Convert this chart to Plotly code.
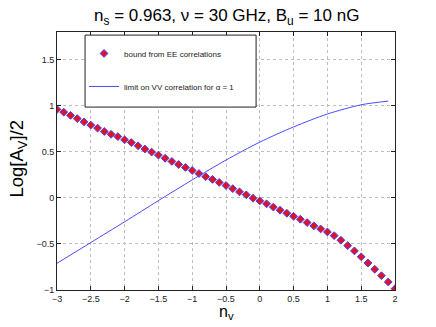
import plotly.graph_objects as go

# bound from EE correlations (diamonds)
nv_pts = [-3.0, -2.9, -2.8, -2.7, -2.6, -2.5, -2.4, -2.3, -2.2, -2.1,
          -2.0, -1.9, -1.8, -1.7, -1.6, -1.5, -1.4, -1.3, -1.2, -1.1,
          -1.0, -0.9, -0.8, -0.7, -0.6, -0.5, -0.4, -0.3, -0.2, -0.1,
          0.0, 0.1, 0.2, 0.3, 0.4, 0.5, 0.6, 0.7, 0.8, 0.9,
          1.0, 1.1, 1.2, 1.3, 1.4, 1.5, 1.6, 1.7, 1.8, 1.9, 2.0]
ee_bound = [0.96, 0.93, 0.895, 0.86, 0.825, 0.79, 0.757, 0.72, 0.69, 0.665,
            0.63, 0.60, 0.565, 0.53, 0.497, 0.464, 0.43, 0.395, 0.362, 0.33,
            0.297, 0.264, 0.23, 0.20, 0.167, 0.134, 0.10, 0.065, 0.033, -0.004,
            -0.033, -0.065, -0.10, -0.134, -0.167, -0.20, -0.232, -0.268, -0.304, -0.337,
            -0.37, -0.41, -0.46, -0.518, -0.576, -0.64, -0.707, -0.775, -0.845, -0.913, -0.986]

# limit on VV correlation for alpha = 1 (line)
nv_line = [-3.0, -2.5, -2.0, -1.5, -1.0, -0.5, 0.0, 0.5, 1.0, 1.5, 1.9]
vv_limit = [-0.71, -0.485, -0.26, -0.03, 0.195, 0.41, 0.605, 0.77, 0.91, 1.01, 1.05]

x_ticks = [-3, -2.5, -2, -1.5, -1, -0.5, 0, 0.5, 1, 1.5, 2]
y_ticks = [-1, -0.5, 0, 0.5, 1, 1.5]

font = "Liberation Sans, Arial, Helvetica, sans-serif"

fig = go.Figure()
fig.add_trace(go.Scatter(
    x=nv_pts, y=ee_bound, mode="markers", name="bound from EE correlations",
    legendgroup="ee",
    marker=dict(symbol="diamond", size=6, color="#e0141c",
                line=dict(color="#4a3cff", width=1)),
))
fig.add_trace(go.Scatter(
    x=nv_line, y=vv_limit, mode="lines", name="limit on VV correlation for \u03b1 = 1",
    legendgroup="vv",
    line=dict(color="#4a4aff", width=1, shape="spline", smoothing=0.8),
))

axis_common = dict(
    showline=True, linecolor="#222", linewidth=1, mirror="ticks",
    ticks="inside", ticklen=4, tickcolor="#222",
    showgrid=True, gridcolor="#bdbdbd", griddash="dot", gridwidth=1,
    zeroline=False, automargin=False,
    tickfont=dict(size=9, color="#222", family=font),
)

fig.update_xaxes(range=[-3, 2], tickvals=x_ticks, **axis_common)
fig.update_yaxes(range=[-1, 1.8], tickvals=y_ticks, **axis_common)

# axis titles
fig.add_annotation(text="n<sub>v</sub>", xref="paper", yref="paper",
                   x=0.5, y=-0.042, xanchor="center", yanchor="top", showarrow=False,
                   font=dict(size=16, color="black", family=font))
fig.add_annotation(text="Log[A<sub>V</sub>]/2", xref="paper", yref="paper",
                   x=-0.115, y=0.51, xanchor="center", yanchor="middle", showarrow=False,
                   textangle=-90, font=dict(size=18.5, color="black", family=font))

# legend box
fig.add_shape(type="rect", xref="paper", yref="paper",
              x0=0.083, x1=0.589, y0=0.709, y1=0.988,
              line=dict(color="#222", width=1), fillcolor="white", layer="above")

fig.update_layout(
    width=436, height=327,
    margin=dict(l=57, r=41, t=32, b=37),
    paper_bgcolor="white", plot_bgcolor="white",
    title=dict(text="n<sub>s</sub> = 0.963, \u03bd = 30 GHz, B<sub>u</sub> = 10 nG",
               x=0.52, xanchor="center", y=0.972, yanchor="top",
               font=dict(size=17, color="black", family=font)),
    legend=dict(x=0.08, y=0.973, xanchor="left", yanchor="top",
                bgcolor="rgba(0,0,0,0)", borderwidth=0,
                font=dict(size=8, color="#222", family=font),
                tracegroupgap=14, itemwidth=30),
    showlegend=True,
)

# drop the default page margin so the figure starts at the window corner
fig.write_html("out.html", config={"displayModeBar": False},
               post_script="document.body.style.margin='0';")
